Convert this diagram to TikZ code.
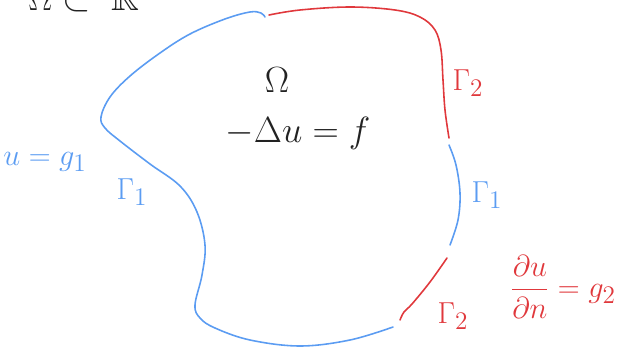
\documentclass[tikz,border=0pt]{standalone}
\usepackage{amsmath,amssymb}
\usepackage{tikz}
\definecolor{azulD}{HTML}{5B9CF2}
\definecolor{rojoN}{HTML}{E0383C}
\definecolor{negroT}{HTML}{222222}

\begin{document}
\begin{tikzpicture}[x=0.02cm,y=-0.02cm,
    borde/.style={line width=0.9pt,line cap=round,line join=round},
    etiq/.style={font=\fontsize{19}{22}\selectfont},
    etiqG/.style={font=\fontsize{22}{26}\selectfont}]
          \useasboundingbox (0,0) rectangle (619,348);
          \clip (0,0) rectangle (619,348);
          % enunciado de arriba (cortado)
          \node[etiqG,negroT,anchor=base west] (enun) at (22,11) {$\Omega\subset\;\mathbb{R}^n$};
          % frontera
          \draw[borde,azulD] plot[smooth,tension=0.6] coordinates {(265,17) (261,13) (250,12) (225,19) (190,34) (160,53) (130,76) (110,97) (101,117) (105,128) (120,141) (150,164) (180,186) (197,212) (205,245) (202,275) (195,305) (200,318) (215,328) (250,340) (300,346) (350,340) (393,327)};
          \draw[borde,rojoN] plot[smooth,tension=0.6] coordinates {(400,320) (404,312) (412,304) (430,282) (447,258)};
          \draw[borde,azulD] plot[smooth,tension=0.6] coordinates {(449,145) (456,165) (460,193) (458,220) (450,245)};
          \draw[borde,rojoN] plot[smooth,tension=0.6] coordinates {(269,15) (300,10) (350,7) (395,10) (420,17) (435,30) (441,50) (443,80) (445,110) (449,138)};
          % textos
          \node[etiqG,negroT] (omega) at (277,80) {$\Omega$};
          \node[etiqG,negroT] (ecua) at (298,133) {$-\Delta u=f$};
          \node[etiq,rojoN] (gdosA) at (468,83) {$\Gamma_2$};
          \node[etiq,azulD] (gunoA) at (487,195) {$\Gamma_1$};
          \node[etiq,azulD] (gunoB) at (132,192) {$\Gamma_1$};
          \node[etiq,rojoN] (gdosB) at (453,316) {$\Gamma_2$};
          \node[etiq,azulD] (dirich) at (45,162) {$u=g_1$};
          \node[etiq,rojoN] (neum) at (563,287) {$\dfrac{\partial u}{\partial n}=g_2$};
        \end{tikzpicture}
\end{document}
